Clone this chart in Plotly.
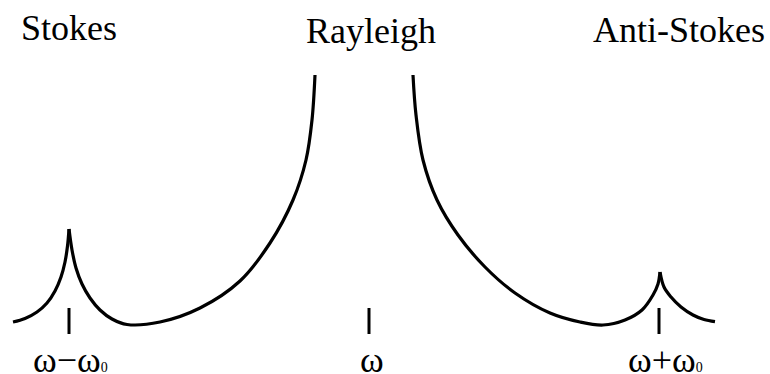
import plotly.graph_objects as go

# Schematic Raman spectrum: Stokes line, truncated Rayleigh line, anti-Stokes line.
# Frequency and intensity in arbitrary units.

# Stokes band, low-frequency flank up to the peak
stokes_lo_freq = [13, 25, 37, 47, 55, 61, 65, 67.5, 69]
stokes_lo_int = [52, 55.5, 62, 71, 83, 97, 112, 128, 145]

# Stokes band high-frequency flank running into the Rayleigh wing
stokes_ray_freq = [69, 72, 76, 82, 90, 100, 112, 127, 160, 200, 240, 270,
                   293, 306, 312, 315]
stokes_ray_int = [145, 124, 106, 90, 76, 64, 55, 49.5, 52, 66, 93, 131,
                  174, 214, 254, 299]

# Rayleigh wing on the high-frequency side running into the anti-Stokes band
ray_as_freq = [413, 416, 423, 437, 458, 485, 515, 550, 580, 603, 625, 642,
               653, 658, 660]
ray_as_int = [299, 259, 214, 174, 139, 107, 81, 61, 52, 49, 54, 64,
              79, 90, 102]

# Anti-Stokes band, high-frequency flank
as_hi_freq = [660, 664, 671, 681, 693, 704, 715]
as_hi_int = [102, 87, 77, 67, 59, 54.5, 52.3]

# Marker ticks under each line centre
tick_freq = [69, 369, 659]
tick_low, tick_high = 40, 66
tick_labels = ["ω−ω<span style='font-size:14px'>0</span>",
               "ω",
               "ω+ω<span style='font-size:14px'>0</span>"]
tick_label_freq = [70.5, 372, 665.5]
tick_label_int = 14

# Band titles
band_names = ["Stokes", "Rayleigh", "Anti-Stokes"]
band_name_freq = [69, 370.5, 678.5]
band_name_int = [346, 343, 344]

line_style = dict(color="black", width=3.2, shape="spline", smoothing=1.0)

fig = go.Figure()
for fx, fy in [(stokes_lo_freq, stokes_lo_int),
               (stokes_ray_freq, stokes_ray_int),
               (ray_as_freq, ray_as_int),
               (as_hi_freq, as_hi_int)]:
    fig.add_trace(go.Scatter(x=fx, y=fy, mode="lines", line=line_style,
                             hoverinfo="skip", showlegend=False))

tx, ty = [], []
for f in tick_freq:
    tx += [f, f, None]
    ty += [tick_low, tick_high, None]
fig.add_trace(go.Scatter(x=tx, y=ty, mode="lines",
                         line=dict(color="black", width=3),
                         hoverinfo="skip", showlegend=False))

serif = "Liberation Serif, Times New Roman, serif"
for name, fx, fy in zip(band_names, band_name_freq, band_name_int):
    fig.add_annotation(x=fx, y=fy, text=name, showarrow=False,
                       xanchor="center", yanchor="middle",
                       font=dict(family=serif, size=36, color="black"))
for lab, fx in zip(tick_labels, tick_label_freq):
    fig.add_annotation(x=fx, y=tick_label_int, text=lab, showarrow=False,
                       xanchor="center", yanchor="middle",
                       font=dict(family=serif, size=36, color="black"))

fig.update_layout(
    width=770, height=374,
    margin=dict(l=0, r=0, t=0, b=0),
    paper_bgcolor="white", plot_bgcolor="white",
    xaxis=dict(range=[0, 770], visible=False, fixedrange=True),
    yaxis=dict(range=[0, 374], visible=False, fixedrange=True),
)

fig.write_html("out.html", config={"displayModeBar": False})
